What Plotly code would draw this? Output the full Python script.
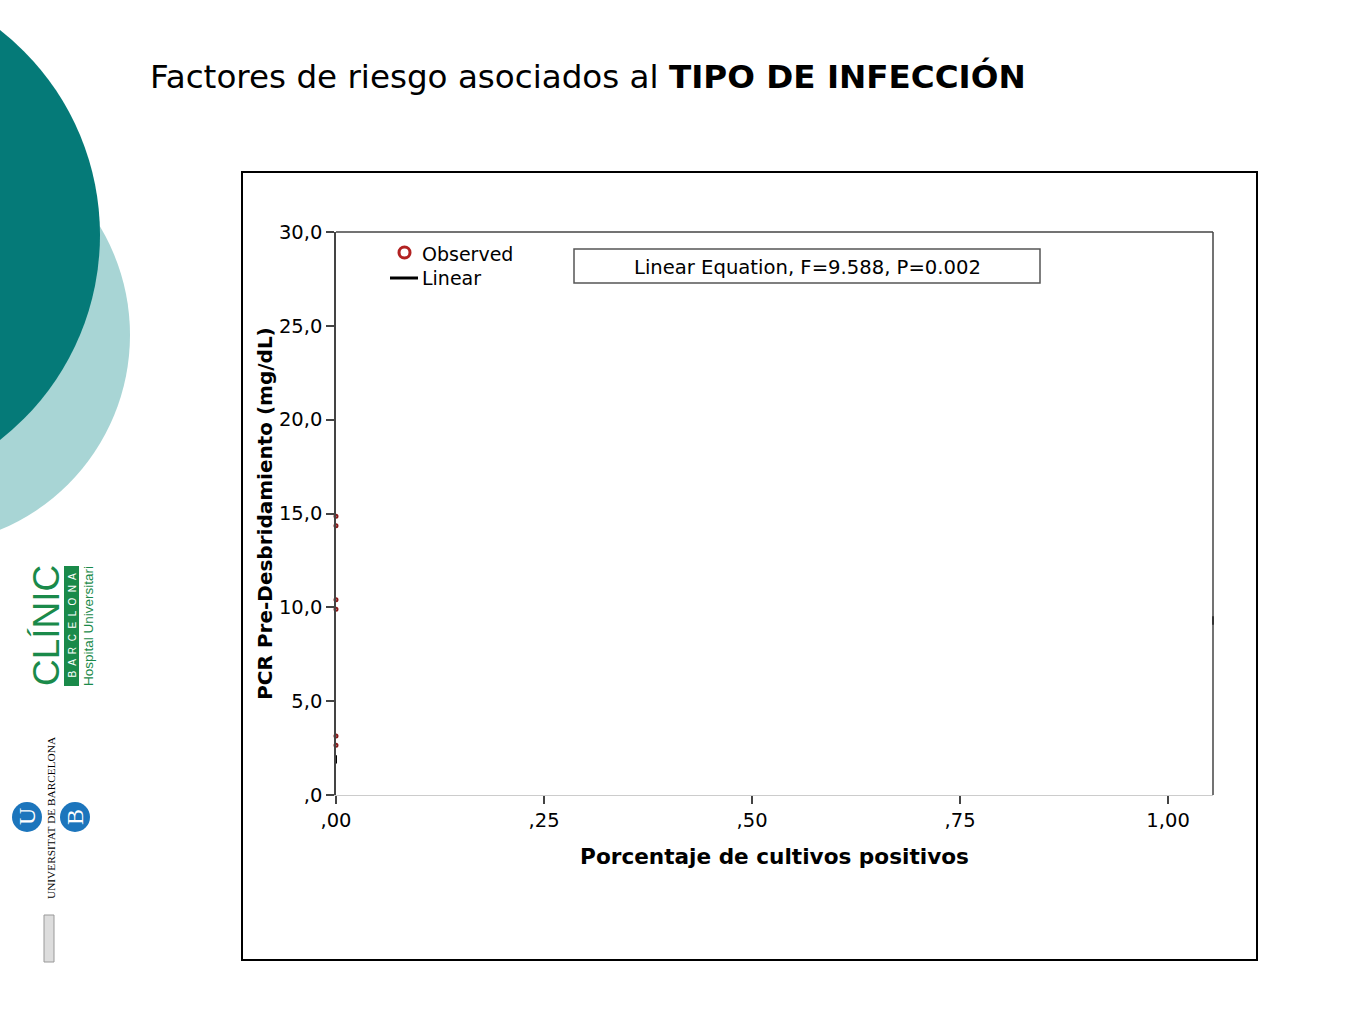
import plotly.graph_objects as go

W, H = 1365, 1024

# Data
obs_x = [0.0, 0.0, 0.0, 0.0, 0.0, 0.0]
obs_y = [14.85, 14.35, 10.4, 9.9, 3.15, 2.65]
lin_x = [0.0, 1.054]
lin_y = [1.9, 9.3]
x_ticks = [0, 0.25, 0.5, 0.75, 1.0]
x_labels = [",00", ",25", ",50", ",75", "1,00"]
y_ticks = [0, 5, 10, 15, 20, 25, 30]
y_labels = [",0", "5,0", "10,0", "15,0", "20,0", "25,0", "30,0"]

def px(x):
    return x / W

def py(y):
    return 1 - y / H

FONT = "DejaVu Sans"

fig = go.Figure()
fig.add_trace(go.Scatter(
    x=obs_x, y=obs_y, mode="markers",
    marker=dict(symbol="circle-open", size=3, color="#8b1a1a", line=dict(width=2, color="#8b1a1a")),
    showlegend=False, cliponaxis=False))
fig.add_trace(go.Scatter(
    x=lin_x, y=lin_y, mode="markers",
    marker=dict(symbol="line-ns", size=6, line=dict(width=2, color="black")),
    showlegend=False, cliponaxis=False))

shapes = []
shapes.append(dict(type="circle", xref="paper", yref="paper",
                   x0=px(-81 - 211), x1=px(-81 + 211), y0=py(335 + 211), y1=py(335 - 211),
                   fillcolor="#a8d5d5", line=dict(width=0), layer="below"))
shapes.append(dict(type="circle", xref="paper", yref="paper",
                   x0=px(-160 - 260), x1=px(-160 + 260), y0=py(235 + 260), y1=py(235 - 260),
                   fillcolor="#057a78", line=dict(width=0), layer="below"))
shapes.append(dict(type="rect", xref="paper", yref="paper",
                   x0=px(242), x1=px(1257), y0=py(960), y1=py(172),
                   line=dict(color="black", width=2)))
shapes.append(dict(type="rect", xref="paper", yref="paper",
                   x0=px(574), x1=px(1040), y0=py(283), y1=py(249),
                   line=dict(color="#555555", width=1.5), fillcolor="white"))
shapes.append(dict(type="line", xref="paper", yref="paper",
                   x0=px(390), x1=px(418), y0=py(278), y1=py(278),
                   line=dict(color="black", width=3)))
shapes.append(dict(type="circle", xref="paper", yref="paper",
                   x0=px(399), x1=px(410), y0=py(258), y1=py(247),
                   line=dict(color="#b22222", width=3)))
shapes.append(dict(type="rect", xref="paper", yref="paper",
                   x0=px(64), x1=px(79), y0=py(686), y1=py(566),
                   fillcolor="#1a8a4a", line=dict(width=0)))
shapes.append(dict(type="circle", xref="paper", yref="paper",
                   x0=px(12), x1=px(42), y0=py(832), y1=py(802),
                   fillcolor="#1c75bc", line=dict(width=0)))
shapes.append(dict(type="circle", xref="paper", yref="paper",
                   x0=px(60), x1=px(90), y0=py(832), y1=py(802),
                   fillcolor="#1c75bc", line=dict(width=0)))
shapes.append(dict(type="rect", xref="paper", yref="paper",
                   x0=px(44), x1=px(54), y0=py(962), y1=py(915),
                   fillcolor="#dddddd", line=dict(color="#999999", width=1)))
shapes.append(dict(type="line", xref="paper", yref="paper", x0=px(336), x1=px(1213), y0=py(232), y1=py(232),
                   line=dict(color="#444444", width=1.5)))
shapes.append(dict(type="line", xref="paper", yref="paper", x0=px(1213), x1=px(1213), y0=py(795), y1=py(232),
                   line=dict(color="#444444", width=1.5)))

annotations = []
annotations.append(dict(xref="paper", yref="paper", x=px(148), y=py(76),
                        xanchor="left", yanchor="middle", showarrow=False,
                        text="Factores de riesgo asociados al <b>TIPO DE INFECCIÓN</b>",
                        font=dict(family=FONT, size=32.6, color="black")))
annotations.append(dict(xref="paper", yref="paper", x=px(420), y=py(254),
                        xanchor="left", yanchor="middle", showarrow=False,
                        text="Observed", font=dict(family=FONT, size=19, color="black")))
annotations.append(dict(xref="paper", yref="paper", x=px(420), y=py(278),
                        xanchor="left", yanchor="middle", showarrow=False,
                        text="Linear", font=dict(family=FONT, size=19, color="black")))
annotations.append(dict(xref="paper", yref="paper", x=px(807), y=py(267),
                        xanchor="center", yanchor="middle", showarrow=False,
                        text="Linear Equation, F=9.588, P=0.002",
                        font=dict(family=FONT, size=19.6, color="black")))
annotations.append(dict(xref="paper", yref="paper", x=px(46), y=py(626),
                        xanchor="center", yanchor="middle", showarrow=False, textangle=-90,
                        text="CLÍNIC", font=dict(family="Liberation Sans", size=37, color="#1a8a4a")))
annotations.append(dict(xref="paper", yref="paper", x=px(71.5), y=py(626),
                        xanchor="center", yanchor="middle", showarrow=False, textangle=-90,
                        text="B  A  R  C  E  L  O  N  A", font=dict(family="Liberation Sans", size=10, color="white")))
annotations.append(dict(xref="paper", yref="paper", x=px(88), y=py(626),
                        xanchor="center", yanchor="middle", showarrow=False, textangle=-90,
                        text="Hospital Universitari", font=dict(family="Liberation Sans", size=13.5, color="#1a8a4a")))
annotations.append(dict(xref="paper", yref="paper", x=px(27), y=py(817),
                        xanchor="center", yanchor="middle", showarrow=False, textangle=-90,
                        text="U", font=dict(family="Liberation Serif", size=24, color="white")))
annotations.append(dict(xref="paper", yref="paper", x=px(75), y=py(817),
                        xanchor="center", yanchor="middle", showarrow=False, textangle=-90,
                        text="B", font=dict(family="Liberation Serif", size=24, color="white")))
annotations.append(dict(xref="paper", yref="paper", x=px(51), y=py(818),
                        xanchor="center", yanchor="middle", showarrow=False, textangle=-90,
                        text="UNIVERSITAT DE BARCELONA", font=dict(family="Liberation Serif", size=11.3, color="black")))

fig.update_layout(
    width=W, height=H, autosize=False,
    margin=dict(l=0, r=0, t=0, b=0, pad=0, autoexpand=False),
    paper_bgcolor="white", plot_bgcolor="white",
    showlegend=False,
    shapes=shapes, annotations=annotations,
    xaxis=dict(domain=[px(336), px(1213)], range=[0, 1.054], automargin=False,
               tickvals=x_ticks, ticktext=x_labels,
               ticks="outside", ticklen=8, tickcolor="#444444", tickwidth=1.5,
               showline=True, linecolor="#cccccc", linewidth=1, mirror=False,
               showgrid=False, zeroline=False,
               tickfont=dict(family=FONT, size=19.5, color="black"),
               title=dict(text="<b>Porcentaje de cultivos positivos</b>",
                          font=dict(family=FONT, size=21.6, color="black"), standoff=17)),
    yaxis=dict(domain=[py(795), py(232)], range=[0, 30], automargin=False,
               tickvals=y_ticks, ticktext=y_labels,
               ticks="outside", ticklen=8, tickcolor="#444444", tickwidth=1.5,
               showline=True, linecolor="#444444", linewidth=1.5, mirror=False,
               showgrid=False, zeroline=False,
               tickfont=dict(family=FONT, size=19.5, color="black"),
               title=dict(text="<b>PCR Pre-Desbridamiento (mg/dL)</b>",
                          font=dict(family=FONT, size=20, color="black"), standoff=1)),
)

fig.write_html("out.html", config={"displayModeBar": False},
               post_script="document.body.style.margin='0';document.body.style.overflow='hidden';")
